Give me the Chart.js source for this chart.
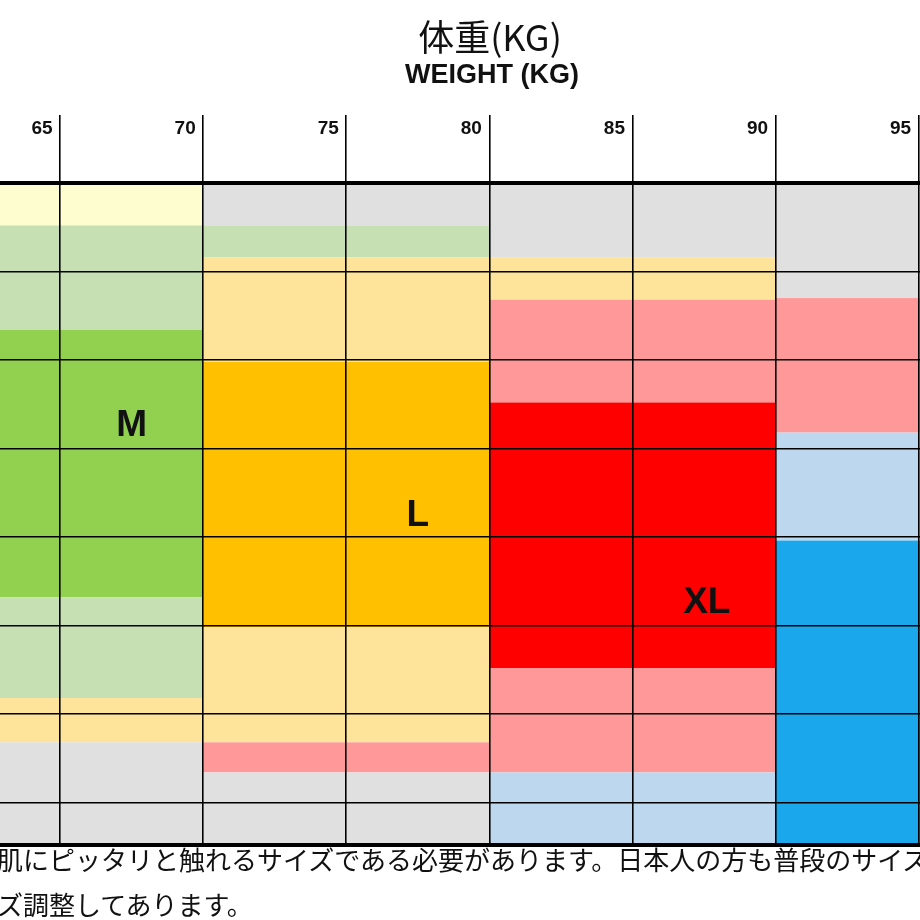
<!DOCTYPE html>
<html>
<head>
<meta charset="utf-8">
<script src="https://cdn.jsdelivr.net/npm/chart.js@4"></script>
<style>
  html, body { margin: 0; padding: 0; background: #fff; overflow: hidden; }
  #wrap { position: relative; width: 920px; height: 920px; overflow: hidden; }
  .note { position: absolute; left: -3px; font: 26px "Noto Sans CJK JP"; color: #111; white-space: nowrap; }
</style>
</head>
<body>
<div id="wrap">
  <canvas id="sizeChart" width="920" height="920"></canvas>
  <div class="note" style="top:840px">肌にピッタリと触れるサイズである必要があります。日本人の方も普段のサイズ</div>
  <div class="note" style="top:885px">ズ調整してあります。</div>
</div>
<script>
// weight (kg) axis
const weightTicks = [65, 70, 75, 80, 85, 90, 95];
// height rows (cm), top to bottom
const heightTicks = [190, 185, 180, 175, 170, 165, 160, 155, 152.6];

// weight column groups: [from, to]
const groupRanges = [[62.9, 70], [70, 80], [80, 90], [90, 95.05]];

// colour bands per group, each [top height, bottom height, colour]
const bandsM = [
  [190, 187.6, '#fefdd0'], [187.6, 181.7, '#c6e0b4'], [181.7, 166.6, '#92d050'],
  [166.6, 160.9, '#c6e0b4'], [160.9, 158.4, '#fde49a'], [158.4, 152.6, '#e0e0e0']
];
const bandsL = [
  [190, 187.6, '#e0e0e0'], [187.6, 185.8, '#c6e0b4'], [185.8, 179.9, '#fde49a'],
  [179.9, 164.9, '#ffc000'], [164.9, 158.4, '#fde49a'], [158.4, 156.7, '#ff9999'],
  [156.7, 152.6, '#e0e0e0']
];
const bandsXL = [
  [190, 185.8, '#e0e0e0'], [185.8, 183.4, '#fde49a'], [183.4, 177.6, '#ff9999'],
  [177.6, 162.6, '#ff0000'], [162.6, 156.7, '#ff9999'], [156.7, 152.6, '#bdd7ee']
];
const bandsXXL = [
  [190, 183.5, '#e0e0e0'], [183.5, 175.9, '#ff9999'], [175.9, 169.8, '#bdd7ee'],
  [169.8, 152.6, '#1aa7ec']
];
const groupBands = [bandsM, bandsL, bandsXL, bandsXXL];

// size names and where they sit (weight, height)
const sizeNames = ['M', 'L', 'XL'];
const sizeWeights = [67.5, 77.5, 87.6];
const sizeHeights = [176.3, 171.2, 166.3];

const bandPlugin = {
  id: 'bands',
  beforeDraw(chart) {
    const { ctx, scales: { x, y } } = chart;
    ctx.save();
    groupRanges.forEach((range, i) => {
      const x0 = x.getPixelForValue(range[0]);
      const x1 = x.getPixelForValue(range[1]);
      groupBands[i].forEach(b => {
        const y0 = y.getPixelForValue(b[0]);
        const y1 = y.getPixelForValue(b[1]);
        ctx.fillStyle = b[2];
        ctx.fillRect(x0, y0, x1 - x0, y1 - y0);
      });
    });
    ctx.restore();
  },
  afterDraw(chart) {
    const { ctx, scales: { x, y } } = chart;
    ctx.save();
    ctx.fillStyle = '#111';
    ctx.textAlign = 'center';
    ctx.textBaseline = 'middle';
    ctx.font = 'bold 37px "Liberation Sans", Arial';
    sizeNames.forEach((s, i) => {
      ctx.fillText(s, x.getPixelForValue(sizeWeights[i]), y.getPixelForValue(sizeHeights[i]));
    });
    ctx.font = '36px "Noto Sans CJK JP"';
    ctx.fillText('体重(KG)', 490, 37);
    ctx.font = 'bold 27px "Liberation Sans", Arial';
    ctx.fillText('WEIGHT (KG)', 492, 76);
    ctx.restore();
  }
};

new Chart(document.getElementById('sizeChart').getContext('2d'), {
  type: 'scatter',
  data: { datasets: [{ data: [] }] },
  plugins: [bandPlugin],
  options: {
    responsive: false,
    animation: false,
    layout: { padding: { top: 115, bottom: 75, left: 0, right: 0 } },
    plugins: { legend: { display: false }, tooltip: { enabled: false } },
    scales: {
      x: {
        type: 'linear',
        position: 'top',
        min: 62.9,
        max: 95.05,
        afterBuildTicks: axis => { axis.ticks = weightTicks.map(v => ({ value: v })); },
        afterFit: axis => { axis.height = 68; },
        grid: { color: '#000', lineWidth: 1.6, tickLength: 68, drawTicks: true },
        border: { color: '#000', width: 4 },
        ticks: {
          color: '#111',
          font: { family: '"Liberation Sans", Arial', size: 19, weight: 'bold' },
          padding: -25,
          labelOffset: -18,
          maxRotation: 0
        }
      },
      y: {
        type: 'linear',
        min: 152.6,
        max: 190,
        afterBuildTicks: axis => { axis.ticks = heightTicks.map(v => ({ value: v })); },
        afterFit: axis => { axis.width = 0; },
        grid: {
          color: '#000',
          drawTicks: false,
          lineWidth: c => (c.tick && c.tick.value === 152.6 ? 4 : 1.6)
        },
        border: { display: false },
        ticks: { display: false }
      }
    }
  }
});
</script>
</body>
</html>
